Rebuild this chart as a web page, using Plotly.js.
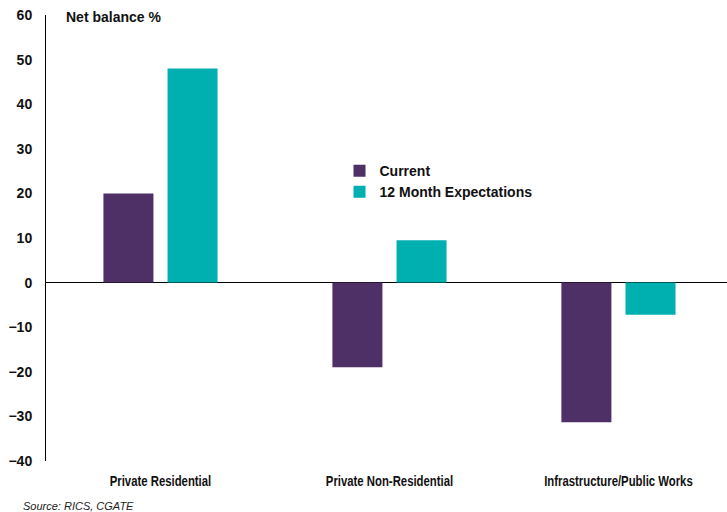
<!DOCTYPE html>
<html>
<head>
<meta charset="utf-8">
<script src="https://cdn.plot.ly/plotly-3.0.1.min.js"></script>
<style>
  html, body { margin: 0; padding: 0; background: #fff; }
  #chart { width: 727px; height: 512px; }
</style>
</head>
<body>
<div id="chart"></div>
<script>
const categories = ['Private Residential', 'Private Non-Residential', 'Infrastructure/Public Works']
const currentValues = [20, -19, -31.3]
const expectationValues = [48, 9.5, -7.2]
const seriesNames = ['Current', '12 Month Expectations']
const yTicks = [-40, -30, -20, -10, 0, 10, 20, 30, 40, 50, 60]

const PURPLE = '#4E2F66'
const TEAL = '#00B0B0'
const FONT = 'Liberation Sans, Arial, sans-serif'

const traces = [
  {
    x: categories,
    y: currentValues,
    type: 'bar',
    name: seriesNames[0],
    marker: { color: PURPLE },
    hoverinfo: 'none'
  },
  {
    x: categories,
    y: expectationValues,
    type: 'bar',
    name: seriesNames[1],
    marker: { color: TEAL },
    hoverinfo: 'none'
  }
]

const layout = {
  width: 727,
  height: 512,
  margin: { l: 46, r: 0, t: 15, b: 51 },
  paper_bgcolor: '#fff',
  plot_bgcolor: '#fff',
  font: { family: FONT, color: '#111', size: 14 },
  barmode: 'group',
  bargap: 0.44,
  bargroupgap: 0.22,
  xaxis: {
    type: 'category',
    range: [-0.5, 2.474],
    showline: false,
    showgrid: false,
    zeroline: false,
    ticks: '',
    tickfont: { family: FONT, size: 14, color: '#111', weight: 'bold' },
    ticklabelstandoff: 10
  },
  yaxis: {
    range: [-40, 60],
    tickvals: yTicks,
    showgrid: false,
    showline: true,
    linecolor: '#000',
    linewidth: 1,
    zeroline: true,
    zerolinecolor: '#000',
    zerolinewidth: 1,
    ticks: '',
    tickfont: { family: FONT, size: 14, color: '#111', weight: 'bold' },
    ticklabelstandoff: 10
  },
  legend: {
    x: 0.431,
    y: 0.686,
    xanchor: 'left',
    yanchor: 'top',
    bgcolor: 'rgba(0,0,0,0)',
    font: { family: FONT, size: 14, color: '#111', weight: 'bold' },
    itemwidth: 30,
    tracegroupgap: 4
  },
  annotations: [
    {
      text: 'Net balance %',
      xref: 'paper', yref: 'paper',
      x: 0.027, y: 0.996,
      xanchor: 'left', yanchor: 'middle',
      showarrow: false,
      font: { family: FONT, size: 14, color: '#111', weight: 'bold' }
    },
    {
      text: '<i>Source: RICS, CGATE</i>',
      xref: 'paper', yref: 'paper',
      x: -0.036, y: -0.101,
      xanchor: 'left', yanchor: 'middle',
      showarrow: false,
      font: { family: FONT, size: 11, color: '#222' }
    }
  ]
}

// the category labels in the source are set in a narrow face; squeeze them
function narrowCategoryLabels() {
  document.querySelectorAll('#chart .xtick text').forEach(t => {
    const w = t.getComputedTextLength()
    t.setAttribute('textLength', (w * 0.81).toFixed(1))
    t.setAttribute('lengthAdjust', 'spacingAndGlyphs')
  })
}

Plotly.newPlot('chart', traces, layout, { staticPlot: true, responsive: false })
  .then(narrowCategoryLabels)
</script>
</body>
</html>
